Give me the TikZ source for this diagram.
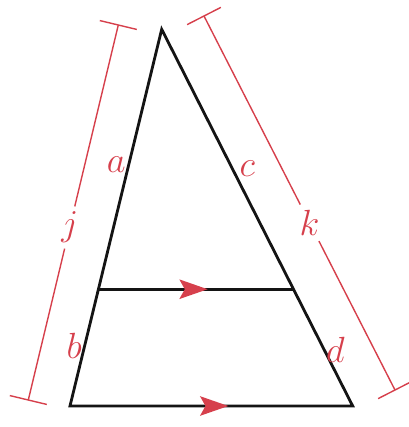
\documentclass[tikz,border=0pt]{standalone}
\usepackage{xcolor}
\usepackage{amsmath}
\usepackage{tikz}
\usetikzlibrary{arrows.meta, calc, decorations.markings}
\definecolor{myred}{RGB}{214,64,76}
\definecolor{mydark}{RGB}{20,20,20}
\tikzset{
  side/.style={line width=1.6pt, color=mydark, line join=miter},
  dimline/.style={line width=0.8pt, color=myred},
  lbl/.style={font=\fontsize{22}{24}\selectfont, text=myred, inner sep=1.5pt},
  dimlbl/.style={font=\fontsize{22}{24}\selectfont, text=myred, inner sep=3pt},
  parmark/.style={postaction={decorate}, decoration={markings,
    mark=at position 0.56 with {\arrow[myred]{Stealth[length=16pt,width=11pt,inset=3pt]}}}}
}

\begin{document}
\begin{tikzpicture}[x=0.02cm, y=-0.02cm]
  \useasboundingbox (0,0) rectangle (409,427);
  % Triangle corners
  \coordinate (apex) at (161.7,29.3);
  \coordinate (bl) at (70,406);
  \coordinate (br) at (352.7,406);
  \coordinate (ml) at ($(apex)!0.69!(bl)$);
  \coordinate (mr) at ($(apex)!0.69!(br)$);
  % Triangle and parallel segment
  \draw[side] (apex) -- (bl) -- (br) -- cycle;
  \draw[side, parmark] (ml) -- (mr);
  \draw[side, parmark] (bl) -- (br);
  % Segment labels
  \node[lbl, anchor=east] (a) at ($(apex)!0.36!(bl)$) {$a$};
  \node[lbl, anchor=west, inner sep=4pt] (c) at ($(apex)!0.37!(br)$) {$c$};
  \node[lbl, anchor=east] (b) at ($(apex)!0.84!(bl)$) {$b$};
  \node[lbl, anchor=west, inner sep=1pt] (d) at ($(apex)!0.85!(br)$) {$d$};
  % Dimension lines j and k
  \coordinate (jtop) at (118.3,25);
  \coordinate (jbot) at (28.3,400);
  \coordinate (ktop) at (204,16);
  \coordinate (kbot) at (395,390);
  \node[dimlbl] (j) at ($(jtop)!0.54!(jbot)$) {$j$};
  \node[dimlbl] (k) at ($(ktop)!0.553!(kbot)$) {$k$};
  \draw[dimline] (jtop) -- (j) -- (jbot);
  \draw[dimline] (ktop) -- (k) -- (kbot);
  % End ticks
  \foreach \e/\o in {jtop/jbot, jbot/jtop, ktop/kbot, kbot/ktop}
    \draw[dimline] ($(\e)!0.38cm!90:(\o)$) -- ($(\e)!0.38cm!-90:(\o)$);
\end{tikzpicture}
\end{document}
